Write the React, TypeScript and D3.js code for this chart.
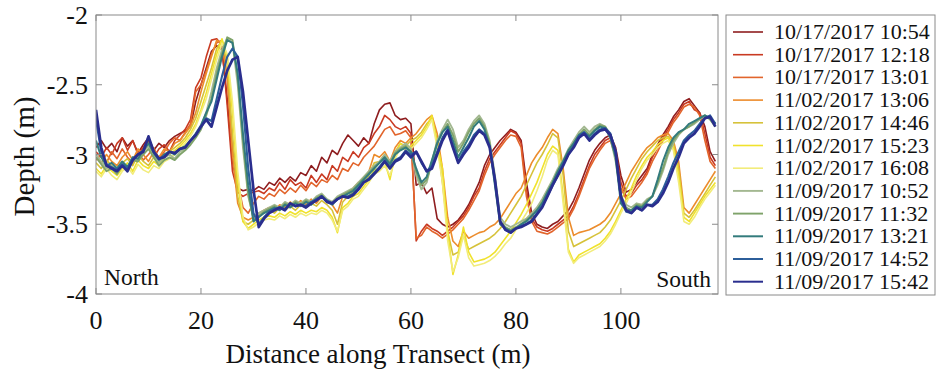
import React from "react";
import * as d3 from "d3";

const distance: number[] = Array.from({ length: 119 }, (_, i) => i);

const seriesNames: string[] = [
  "10/17/2017 10:54", "10/17/2017 12:18", "10/17/2017 13:01",
  "11/02/2017 13:06", "11/02/2017 14:46", "11/02/2017 15:23", "11/02/2017 16:08",
  "11/09/2017 10:52", "11/09/2017 11:32", "11/09/2017 13:21", "11/09/2017 14:52", "11/09/2017 15:42",
];

const seriesColors: string[] = [
  "#8e1d1f", "#c93a22", "#e2652c", "#ec8c2c", "#d6c23a", "#f0e22c", "#f2ec7a",
  "#a3b891", "#7fa36a", "#337b7c", "#2c5e9a", "#2a2e8e",
];

const seriesWidths: number[] = [1.6, 1.6, 1.6, 1.6, 1.6, 1.6, 1.6, 1.9, 1.9, 2.0, 2.1, 2.7];

const d1054: number[] = [
  -2.95, -2.9, -2.96, -2.92, -2.98, -2.88, -2.94, -2.9, -2.99, -2.93,
  -2.88, -2.97, -2.92, -2.95, -2.9, -2.87, -2.85, -2.83, -2.8, -2.62,
  -2.5, -2.38, -2.26, -2.22, -2.25, -2.6, -3.05, -3.24, -3.26, -3.25,
  -3.26, -3.23, -3.25, -3.2, -3.22, -3.17, -3.2, -3.16, -3.19, -3.13,
  -3.15, -3.08, -3.12, -3.02, -3.06, -2.97, -3.0, -2.92, -2.86, -2.9,
  -2.94, -2.88, -2.92, -2.78, -2.68, -2.64, -2.63, -2.72, -2.75, -2.74,
  -2.78, -3.22, -3.2, -3.28, -3.24, -3.46, -3.5, -3.52, -3.5, -3.47,
  -3.42, -3.36, -3.28, -3.2, -3.08, -3.0, -2.95, -2.9, -2.86, -2.82,
  -2.84, -2.9, -3.2, -3.42, -3.5, -3.52, -3.53, -3.5, -3.48, -3.44,
  -3.4, -3.33, -3.24, -3.14, -3.04, -2.97, -2.92, -2.88, -2.86, -2.95,
  -3.15, -3.27, -3.25, -3.2, -3.15, -3.1, -3.0, -2.93, -2.86, -2.8,
  -2.73, -2.68, -2.62, -2.6, -2.65, -2.7, -2.8, -2.98, -3.05,
];
const d1218: number[] = [
  -2.98, -3.02, -2.95, -3.0, -2.92, -2.88, -2.97, -2.9, -3.0, -2.95,
  -2.9, -3.02, -2.96, -2.93, -2.98, -2.9, -2.86, -2.82, -2.75, -2.52,
  -2.45, -2.3, -2.18, -2.17, -2.22, -2.65, -3.12, -3.27, -3.3, -3.28,
  -3.27, -3.26, -3.28, -3.24, -3.26, -3.2, -3.25, -3.18, -3.22, -3.2,
  -3.24, -3.15, -3.2, -3.14, -3.18, -3.08, -3.12, -3.02, -3.05, -2.98,
  -3.02, -2.95, -2.92, -2.85, -2.8, -2.72, -2.75, -2.8, -2.82, -2.8,
  -2.85, -3.62, -3.55, -3.5, -3.53, -3.55, -3.58, -3.55, -3.52, -3.48,
  -3.44, -3.38, -3.3, -3.24, -3.12, -3.03, -2.98, -2.93, -2.88, -2.83,
  -2.85, -2.92, -3.25, -3.46, -3.52, -3.54, -3.55, -3.53, -3.5, -3.47,
  -3.44, -3.37, -3.28, -3.18, -3.08, -3.0, -2.95, -2.9, -2.88, -2.98,
  -3.2, -3.3, -3.28, -3.22, -3.18, -3.12, -3.02, -2.95, -2.88, -2.82,
  -2.75, -2.7, -2.64, -2.62, -2.68, -2.7, -2.85, -3.02, -3.08,
];
const d1301: number[] = [
  -3.04, -3.0, -3.06, -2.98, -3.03, -2.96, -3.02, -3.06, -2.98, -3.04,
  -3.0, -2.95, -3.03, -2.98, -2.92, -2.88, -2.9, -2.84, -2.78, -2.55,
  -2.5, -2.4, -2.28, -2.2, -2.18, -2.45, -2.95, -3.2, -3.38, -3.42,
  -3.35, -3.3, -3.32, -3.28, -3.3, -3.25, -3.28, -3.24, -3.27, -3.22,
  -3.26, -3.2, -3.23, -3.18, -3.2, -3.15, -3.18, -3.1, -3.12, -3.06,
  -3.08, -3.02, -2.98, -2.94, -2.88, -2.82, -2.8, -2.86, -2.85, -2.83,
  -2.88, -3.6, -3.58, -3.52, -3.55, -3.57, -3.6, -3.57, -3.54, -3.5,
  -3.46, -3.4, -3.33, -3.26, -3.15, -3.06, -3.0, -2.95, -2.9, -2.86,
  -2.87, -2.95, -3.3, -3.48, -3.55, -3.56, -3.57, -3.55, -3.52, -3.49,
  -3.46, -3.39, -3.3, -3.2, -3.1, -3.03, -2.97, -2.92, -2.9, -3.02,
  -3.24, -3.32, -3.3, -3.25, -3.2, -3.14, -3.05, -2.98, -2.9, -2.84,
  -2.77, -2.72, -2.66, -2.64, -2.66, -2.72, -2.9, -3.05, -3.1,
];
const d1306: number[] = [
  -3.02, -3.06, -3.0, -3.05, -3.08, -3.02, -2.98, -3.04, -2.96, -3.0,
  -3.05, -2.98, -3.02, -2.96, -2.98, -2.92, -2.9, -2.85, -2.8, -2.7,
  -2.55, -2.42, -2.3, -2.18, -2.2, -2.45, -3.0, -3.35, -3.45, -3.47,
  -3.45, -3.42, -3.4, -3.38, -3.4, -3.36, -3.38, -3.34, -3.37, -3.33,
  -3.36, -3.32, -3.35, -3.3, -3.33, -3.36, -3.42, -3.3, -3.28, -3.24,
  -3.2, -3.18, -3.12, -3.0, -3.02, -2.98, -3.05, -2.95, -2.9, -2.92,
  -2.88, -2.85, -2.8, -2.75, -2.72, -2.85, -3.1, -3.45, -3.62, -3.66,
  -3.55, -3.6, -3.58, -3.56, -3.55, -3.52, -3.5, -3.46, -3.4, -3.34,
  -3.28, -3.24, -3.15, -3.06, -3.0, -2.95, -2.88, -2.82, -2.85, -3.1,
  -3.45, -3.58, -3.56, -3.55, -3.54, -3.52, -3.5, -3.47, -3.42, -3.35,
  -3.28, -3.2, -3.12, -3.06, -3.0, -2.95, -2.92, -2.88, -2.86, -2.85,
  -2.9, -3.05, -3.38, -3.42, -3.36, -3.3, -3.24, -3.18, -3.12,
];
const d1446: number[] = [
  -3.06, -3.1, -3.04, -3.08, -3.12, -3.06, -3.03, -3.08, -3.0, -3.05,
  -3.08, -3.02, -3.06, -3.0, -2.98, -2.95, -2.92, -2.88, -2.82, -2.74,
  -2.62, -2.5, -2.38, -2.24, -2.18, -2.35, -2.85, -3.3, -3.48, -3.5,
  -3.47, -3.44, -3.42, -3.4, -3.42, -3.38, -3.4, -3.37, -3.4, -3.36,
  -3.38, -3.35, -3.37, -3.33, -3.36, -3.4, -3.5, -3.34, -3.3, -3.27,
  -3.24, -3.2, -3.15, -3.06, -3.05, -3.0, -3.1, -2.98, -2.92, -2.94,
  -2.9, -2.88, -2.84, -2.78, -2.74, -2.9, -3.2, -3.55, -3.72, -3.7,
  -3.58, -3.68, -3.66, -3.64, -3.62, -3.6, -3.57, -3.53, -3.48, -3.42,
  -3.36, -3.3, -3.22, -3.14, -3.06, -3.0, -2.93, -2.85, -2.88, -3.15,
  -3.55, -3.66, -3.64, -3.62, -3.6, -3.58, -3.56, -3.52, -3.47, -3.4,
  -3.33, -3.25, -3.17, -3.1, -3.03, -2.98, -2.94, -2.9, -2.88, -2.87,
  -2.92, -3.1, -3.42, -3.45, -3.4, -3.34, -3.28, -3.22, -3.16,
];
const d1523: number[] = [
  -3.1, -3.14, -3.08, -3.12, -3.15, -3.1, -3.06, -3.12, -3.04, -3.08,
  -3.1, -3.05, -3.08, -3.02, -3.0, -2.97, -2.94, -2.9, -2.85, -2.78,
  -2.68, -2.56, -2.42, -2.28, -2.17, -2.3, -2.7, -3.2, -3.48, -3.53,
  -3.5, -3.47, -3.45, -3.44, -3.45, -3.42, -3.44, -3.41, -3.43, -3.4,
  -3.42, -3.4, -3.41, -3.38, -3.4, -3.45, -3.56, -3.38, -3.35, -3.3,
  -3.28, -3.23, -3.18, -3.11, -3.1, -3.05, -3.18, -3.0, -2.92, -2.95,
  -2.94, -2.9, -2.86, -2.8, -2.72, -2.92, -3.1, -3.55, -3.86, -3.72,
  -3.52, -3.7, -3.77, -3.76, -3.75, -3.73, -3.7, -3.65, -3.6, -3.55,
  -3.49, -3.43, -3.36, -3.28, -3.2, -3.1, -3.0, -2.94, -2.97, -3.3,
  -3.68, -3.77, -3.72, -3.7, -3.68, -3.66, -3.64, -3.6, -3.55, -3.48,
  -3.4, -3.32, -3.24, -3.15, -3.08, -3.02, -2.98, -2.93, -2.9, -2.88,
  -2.95, -3.15, -3.45, -3.48, -3.42, -3.36, -3.3, -3.25, -3.2,
];
const d1608: number[] = [
  -3.12, -3.16, -3.1, -3.15, -3.18, -3.12, -3.09, -3.14, -3.07, -3.11,
  -3.13, -3.08, -3.1, -3.05, -3.03, -3.0, -2.96, -2.92, -2.87, -2.8,
  -2.7, -2.6, -2.46, -2.32, -2.2, -2.28, -2.62, -3.12, -3.45, -3.54,
  -3.52, -3.49, -3.47, -3.46, -3.47, -3.44, -3.46, -3.43, -3.45, -3.42,
  -3.44, -3.42, -3.43, -3.4, -3.42, -3.47, -3.55, -3.4, -3.37, -3.32,
  -3.3, -3.25, -3.2, -3.14, -3.12, -3.08, -3.15, -3.03, -2.95, -2.97,
  -2.96, -2.92, -2.88, -2.82, -2.75, -2.95, -3.2, -3.62, -3.84, -3.74,
  -3.58, -3.74, -3.8, -3.79, -3.78, -3.76, -3.73, -3.69, -3.64, -3.6,
  -3.54, -3.48, -3.42, -3.35, -3.26, -3.16, -3.04, -2.97, -3.0, -3.35,
  -3.7, -3.78, -3.74, -3.72, -3.7, -3.68, -3.66, -3.62, -3.57, -3.5,
  -3.42, -3.35, -3.27, -3.18, -3.1, -3.04, -3.0, -2.95, -2.92, -2.9,
  -2.97, -3.2, -3.48, -3.5, -3.45, -3.38, -3.32, -3.27, -3.22,
];
const d1052: number[] = [
  -3.0, -3.05, -3.1, -3.08, -3.12, -3.06, -3.1, -3.02, -3.04, -2.98,
  -2.94, -3.0, -3.06, -3.02, -3.0, -3.03, -2.98, -2.96, -2.92, -2.86,
  -2.8, -2.7, -2.55, -2.38, -2.25, -2.17, -2.2, -2.5, -2.95, -3.3,
  -3.45, -3.42, -3.4, -3.38, -3.36, -3.38, -3.34, -3.36, -3.33, -3.35,
  -3.32, -3.34, -3.3, -3.28, -3.32, -3.34, -3.3, -3.28, -3.26, -3.24,
  -3.2, -3.16, -3.12, -3.08, -3.05, -3.0, -3.05, -2.98, -2.95, -2.92,
  -2.96, -3.15, -3.25, -3.2, -3.05, -2.9, -2.82, -2.75, -2.82, -2.95,
  -2.9, -2.82, -2.76, -2.72, -2.78, -2.9, -3.15, -3.45, -3.5, -3.52,
  -3.5, -3.48, -3.46, -3.42, -3.38, -3.32, -3.25, -3.18, -3.1, -3.04,
  -2.96, -2.9, -2.84, -2.8, -2.84, -2.8, -2.78, -2.8, -2.88, -3.05,
  -3.3, -3.36, -3.38, -3.35, -3.36, -3.32, -3.3, -3.22, -3.12, -3.0,
  -2.92, -2.86, -2.82, -2.8, -2.78, -2.75, -2.72, -2.74, -2.78,
];
const d1132: number[] = [
  -3.02, -3.07, -3.12, -3.1, -3.14, -3.08, -3.11, -3.04, -3.05, -3.0,
  -2.96, -3.02, -3.08, -3.04, -3.02, -3.04, -3.0, -2.97, -2.93, -2.88,
  -2.82, -2.72, -2.6, -2.42, -2.28, -2.16, -2.18, -2.45, -2.9, -3.28,
  -3.47, -3.44, -3.41, -3.39, -3.37, -3.39, -3.35, -3.37, -3.34, -3.36,
  -3.33, -3.35, -3.31, -3.29, -3.33, -3.35, -3.31, -3.29, -3.27, -3.25,
  -3.21, -3.17, -3.13, -3.09, -3.06, -3.02, -3.06, -2.99, -2.96, -2.94,
  -2.98, -3.12, -3.22, -3.18, -3.06, -2.92, -2.84, -2.78, -2.86, -2.98,
  -2.92, -2.84, -2.78, -2.74, -2.8, -2.92, -3.2, -3.48, -3.52, -3.54,
  -3.52, -3.5, -3.47, -3.44, -3.4, -3.34, -3.27, -3.2, -3.12, -3.05,
  -2.98, -2.92, -2.86, -2.82, -2.86, -2.82, -2.79, -2.8, -2.86, -3.0,
  -3.32, -3.38, -3.4, -3.36, -3.37, -3.33, -3.3, -3.2, -3.1, -2.98,
  -2.9, -2.85, -2.82, -2.8, -2.77, -2.74, -2.72, -2.75, -2.8,
];
const d1321: number[] = [
  -2.9, -3.02, -3.08, -3.06, -3.1, -3.05, -3.09, -3.02, -3.03, -2.97,
  -2.92, -2.99, -3.04, -3.0, -2.98, -3.0, -2.96, -2.94, -2.9, -2.85,
  -2.79, -2.7, -2.62, -2.46, -2.3, -2.18, -2.2, -2.42, -2.85, -3.22,
  -3.48, -3.45, -3.42, -3.4, -3.38, -3.4, -3.36, -3.38, -3.35, -3.37,
  -3.34, -3.36, -3.32, -3.3, -3.34, -3.36, -3.32, -3.3, -3.28, -3.26,
  -3.22, -3.18, -3.14, -3.1, -3.06, -3.02, -3.07, -3.0, -2.97, -2.95,
  -2.98, -3.1, -3.2, -3.16, -3.04, -2.92, -2.84, -2.8, -2.9, -3.02,
  -2.95, -2.88, -2.8, -2.76, -2.82, -2.94, -3.22, -3.5, -3.53, -3.55,
  -3.53, -3.5, -3.48, -3.44, -3.4, -3.35, -3.27, -3.2, -3.12, -3.05,
  -2.97, -2.92, -2.86, -2.84, -2.87, -2.83, -2.8, -2.81, -2.88, -3.02,
  -3.35, -3.4, -3.4, -3.37, -3.38, -3.34, -3.3, -3.18, -3.05, -2.95,
  -2.88, -2.84, -2.82, -2.78, -2.76, -2.74, -2.72, -2.74, -2.78,
];
const d1452: number[] = [
  -2.75, -2.98, -3.07, -3.09, -3.11, -3.07, -3.1, -3.03, -3.0, -2.97,
  -2.88, -2.98, -3.03, -3.01, -2.98, -2.99, -2.96, -2.95, -2.9, -2.86,
  -2.8, -2.74, -2.76, -2.6, -2.44, -2.3, -2.24, -2.3, -2.65, -3.1,
  -3.42, -3.5, -3.45, -3.41, -3.39, -3.38, -3.39, -3.35, -3.37, -3.36,
  -3.37, -3.34, -3.32, -3.3, -3.33, -3.35, -3.32, -3.3, -3.3, -3.28,
  -3.24, -3.2, -3.17, -3.13, -3.09, -3.04, -3.09, -3.04, -3.02, -2.97,
  -3.0, -2.98, -3.06, -3.12, -3.08, -2.98, -2.88, -2.82, -2.94, -3.05,
  -2.98, -2.93, -2.86, -2.82, -2.85, -2.94, -3.18, -3.48, -3.54, -3.56,
  -3.53, -3.51, -3.5, -3.47, -3.42, -3.37, -3.3, -3.22, -3.15, -3.07,
  -3.0, -2.94, -2.87, -2.84, -2.89, -2.85, -2.82, -2.81, -2.85, -2.98,
  -3.32, -3.41, -3.42, -3.38, -3.4, -3.36, -3.36, -3.32, -3.25, -3.16,
  -3.06, -2.98, -2.9, -2.86, -2.83, -2.78, -2.74, -2.72, -2.78,
];
const d1542: number[] = [
  -2.68, -2.95, -3.08, -3.1, -3.12, -3.08, -3.12, -3.04, -3.0, -2.98,
  -2.87, -2.98, -3.03, -3.02, -2.98, -2.99, -2.96, -2.95, -2.9, -2.86,
  -2.8, -2.75, -2.8, -2.66, -2.52, -2.4, -2.32, -2.3, -2.55, -2.9,
  -3.25, -3.52, -3.46, -3.42, -3.4, -3.38, -3.4, -3.35, -3.37, -3.36,
  -3.38, -3.35, -3.33, -3.3, -3.34, -3.35, -3.32, -3.3, -3.31, -3.29,
  -3.25, -3.2, -3.18, -3.14, -3.1, -3.05, -3.1, -3.05, -3.03, -2.98,
  -3.02, -2.98, -3.05, -3.12, -3.1, -3.0, -2.9, -2.83, -2.95, -3.06,
  -3.0, -2.95, -2.88, -2.83, -2.86, -2.95, -3.18, -3.48, -3.54, -3.56,
  -3.53, -3.52, -3.5, -3.48, -3.43, -3.38, -3.3, -3.22, -3.15, -3.08,
  -3.0, -2.95, -2.88, -2.85, -2.9, -2.86, -2.83, -2.82, -2.86, -2.98,
  -3.3, -3.4, -3.42, -3.38, -3.4, -3.36, -3.37, -3.34, -3.28, -3.2,
  -3.1, -3.02, -2.92, -2.88, -2.85, -2.8, -2.74, -2.73, -2.8,
];

const seriesValues: number[][] = [
  d1054, d1218, d1301, d1306, d1446, d1523, d1608, d1052, d1132, d1321, d1452, d1542,
];

const xTicks: number[] = [0, 20, 40, 60, 80, 100];
const yTicks: number[] = [-2, -2.5, -3, -3.5, -4];
const yTickLabels: string[] = ["-2", "-2.5", "-3", "-3.5", "-4"];

const W = 937;
const H = 371;
const plot = { left: 96, top: 15, right: 718, bottom: 294 };
const FONT = "'Liberation Serif', 'Times New Roman', serif";

export default function App() {
  const x = d3.scaleLinear().domain([0, 118.5]).range([plot.left, plot.right]);
  const y = d3.scaleLinear().domain([-4, -2]).range([plot.bottom, plot.top]);
  const line = d3
    .line<number>()
    .x((_, i) => x(distance[i]))
    .y((d) => y(d));

  const legend = { x: 726, y: 15, w: 209, h: 280 };
  const rowStep = 22.7;

  return (
    <svg
      width={W}
      height={H}
      style={{ position: "absolute", left: 0, top: 0, background: "#fff" }}
      fontFamily={FONT}
    >
      <defs>
        <clipPath id="plotclip">
          <rect x={plot.left} y={plot.top} width={plot.right - plot.left} height={plot.bottom - plot.top} />
        </clipPath>
      </defs>
      <g clipPath="url(#plotclip)">
        {seriesValues.map((vals, si) => (
          <path
            key={si}
            d={line(vals) || ""}
            fill="none"
            stroke={seriesColors[si]}
            strokeWidth={seriesWidths[si]}
            strokeLinejoin="round"
          />
        ))}
      </g>
      <rect
        x={plot.left}
        y={plot.top}
        width={plot.right - plot.left}
        height={plot.bottom - plot.top}
        fill="none"
        stroke="#8a8a8a"
        strokeWidth={1}
      />
      {xTicks.map((t) => (
        <g key={"xt" + t}>
          <line x1={x(t)} x2={x(t)} y1={plot.bottom} y2={plot.bottom - 6} stroke="#8a8a8a" />
          <line x1={x(t)} x2={x(t)} y1={plot.top} y2={plot.top + 6} stroke="#8a8a8a" />
          <text x={x(t)} y={plot.bottom + 35} textAnchor="middle" fontSize={26} fill="#111">
            {t}
          </text>
        </g>
      ))}
      {yTicks.map((t, i) => (
        <g key={"yt" + t}>
          <line x1={plot.left} x2={plot.left + 6} y1={y(t)} y2={y(t)} stroke="#8a8a8a" />
          <line x1={plot.right} x2={plot.right - 6} y1={y(t)} y2={y(t)} stroke="#8a8a8a" />
          <text x={plot.left - 8} y={y(t) + 9} textAnchor="end" fontSize={26} fill="#111">
            {yTickLabels[i]}
          </text>
        </g>
      ))}
      <text x={104} y={285} fontSize={23.5} fill="#111">North</text>
      <text x={711} y={287} fontSize={23.5} fill="#111" textAnchor="end">South</text>
      <text
        x={(plot.left + plot.right) / 2 - 29}
        y={363}
        textAnchor="middle"
        fontSize={27}
        fill="#111"
      >
        Distance along Transect (m)
      </text>
      <text
        transform={`translate(34, ${(plot.top + plot.bottom) / 2 + 2}) rotate(-90)`}
        textAnchor="middle"
        fontSize={29}
        fill="#111"
      >
        Depth (m)
      </text>
      <rect x={legend.x} y={legend.y} width={legend.w} height={legend.h} fill="#fff" stroke="#8a8a8a" />
      {seriesNames.map((name, i) => {
        const ry = 32 + i * rowStep;
        return (
          <g key={"lg" + i}>
            <line x1={733} x2={763} y1={ry} y2={ry} stroke={seriesColors[i]} strokeWidth={Math.min(seriesWidths[i], 2)} />
            <text x={774} y={ry + 7} fontSize={22} fill="#111">
              {name}
            </text>
          </g>
        );
      })}
    </svg>
  );
}
